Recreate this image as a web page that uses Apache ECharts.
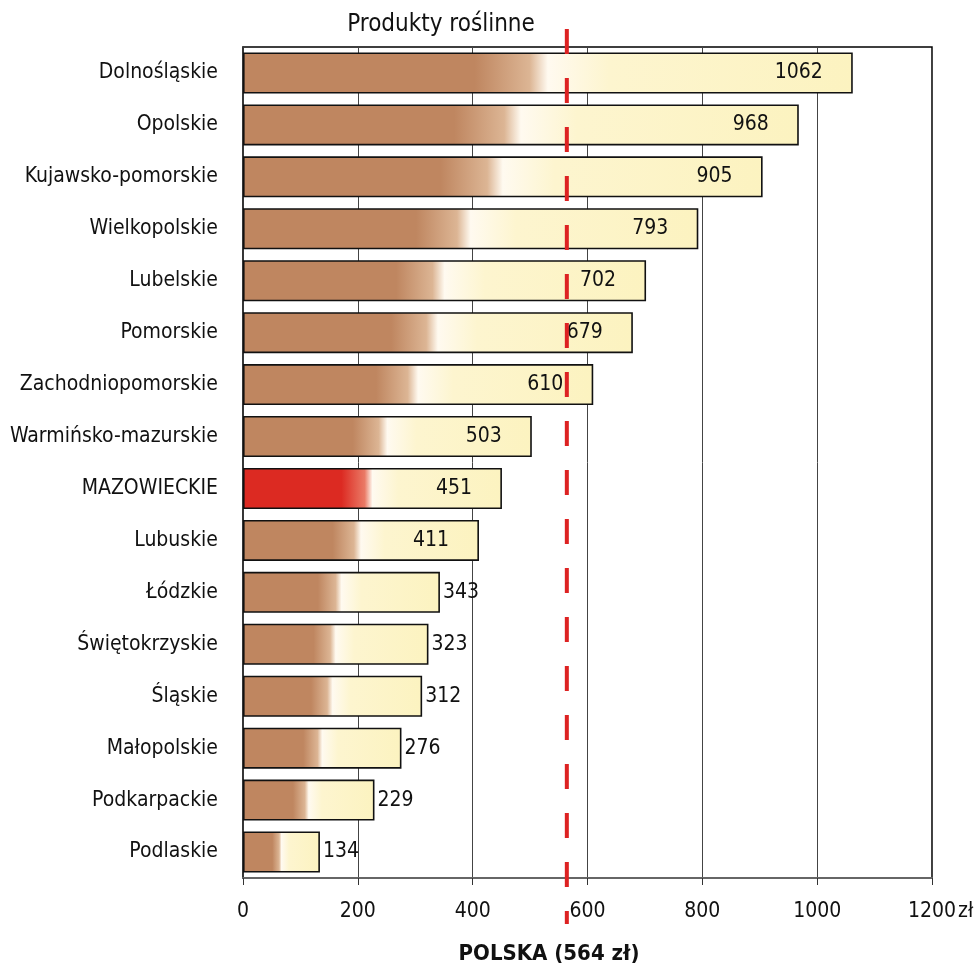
<!DOCTYPE html>
<html>
<head>
<meta charset="utf-8">
<script src="https://cdn.jsdelivr.net/npm/echarts@6/dist/echarts.min.js"></script>
<style>
html,body{margin:0;padding:0;background:#fff;}
#chart{width:977px;height:969px;}
</style>
</head>
<body>
<div id="chart"></div>
<script>
var categories = ['Dolnośląskie','Opolskie','Kujawsko-pomorskie','Wielkopolskie','Lubelskie','Pomorskie','Zachodniopomorskie','Warmińsko-mazurskie','MAZOWIECKIE','Lubuskie','Łódzkie','Świętokrzyskie','Śląskie','Małopolskie','Podkarpackie','Podlaskie'];
var values = [1062, 968, 905, 793, 702, 679, 610, 503, 451, 411, 343, 323, 312, 276, 229, 134];
var highlight = 'MAZOWIECKIE';
var nationalValue = 564;
var chartTitle = 'Produkty roślinne';
var axisTitle = 'POLSKA (564 zł)';
var xTicks = [0, 200, 400, 600, 800, 1000, 1200];
var unit = 'zł';

var FONT = '"DejaVu Sans Condensed","Liberation Sans Narrow","Arial Narrow",sans-serif';

function grad(base, mid) {
  return new echarts.graphic.LinearGradient(0, 0, 1, 0, [
    {offset: 0, color: base},
    {offset: 0.38, color: base},
    {offset: 0.47, color: mid},
    {offset: 0.5, color: '#fffaf0'},
    {offset: 0.6, color: '#fdf5cf'},
    {offset: 1, color: '#fcf3c0'}
  ]);
}

var seriesData = values.map(function (v, i) {
  var isHi = categories[i] === highlight;
  var small = v < 400;
  return {
    value: v,
    itemStyle: {color: isHi ? grad('#dc2a22', '#ea7a66') : grad('#bf8660', '#dcb594')},
    label: {position: small ? 'right' : 'insideRight', distance: small ? 3 : 30}
  };
});

var chart = echarts.init(document.getElementById('chart'), null, {renderer: 'canvas'});
chart.setOption({
  animation: false,
  backgroundColor: '#fff',
  textStyle: {fontFamily: FONT},
  title: [
    {text: chartTitle, left: 436, top: 8, textAlign: 'center',
     textStyle: {fontFamily: FONT, fontSize: 24, fontWeight: 'normal', color: '#111'}},
    {text: axisTitle, left: 544, top: 938, textAlign: 'center',
     textStyle: {fontFamily: FONT, fontSize: 22, fontWeight: 'bold', color: '#111'}}
  ],
  grid: {left: 243, right: 45, top: 47, bottom: 91, outerBoundsMode: 'none', containLabel: false,
         show: true, borderColor: '#000', borderWidth: 1.5, backgroundColor: 'transparent'},
  xAxis: {
    type: 'value', min: 0, max: 1200, interval: 200,
    axisLine: {show: true, lineStyle: {color: '#666', width: 2}},
    axisTick: {show: true, length: 7, lineStyle: {color: '#333'}},
    splitLine: {show: true, lineStyle: {color: '#444', width: 1}},
    axisLabel: {
      fontFamily: FONT, fontSize: 21, color: '#111', margin: 23,
      formatter: function (v) { return xTicks.indexOf(v) >= 0 ? String(v) : ''; }
    }
  },
  yAxis: {
    type: 'category', data: categories, inverse: true,
    axisLine: {show: true, lineStyle: {color: '#333', width: 1.5}},
    axisTick: {show: false},
    axisLabel: {fontFamily: FONT, fontSize: 21, color: '#111', margin: 25}
  },
  series: [{
    type: 'bar',
    data: seriesData,
    barCategoryGap: '21%',
    itemStyle: {borderColor: '#111', borderWidth: 1.6},
    label: {show: true, fontFamily: FONT, fontSize: 21, color: '#111'}
  }]
});

var px = chart.convertToPixel({xAxisIndex: 0}, nationalValue);
var lastX = chart.convertToPixel({xAxisIndex: 0}, xTicks[xTicks.length - 1]);
chart.setOption({
  graphic: [
    {type: 'line', z: 100, shape: {x1: px, y1: 29, x2: px, y2: 924},
     style: {stroke: '#dd2222', lineWidth: 4, lineDash: [25, 24]}},
    {type: 'text', z: 100, x: lastX + 26, y: 912,
     style: {text: unit, font: '21px ' + FONT, fill: '#111', verticalAlign: 'middle', align: 'left'}}
  ]
});
</script>
</body>
</html>
